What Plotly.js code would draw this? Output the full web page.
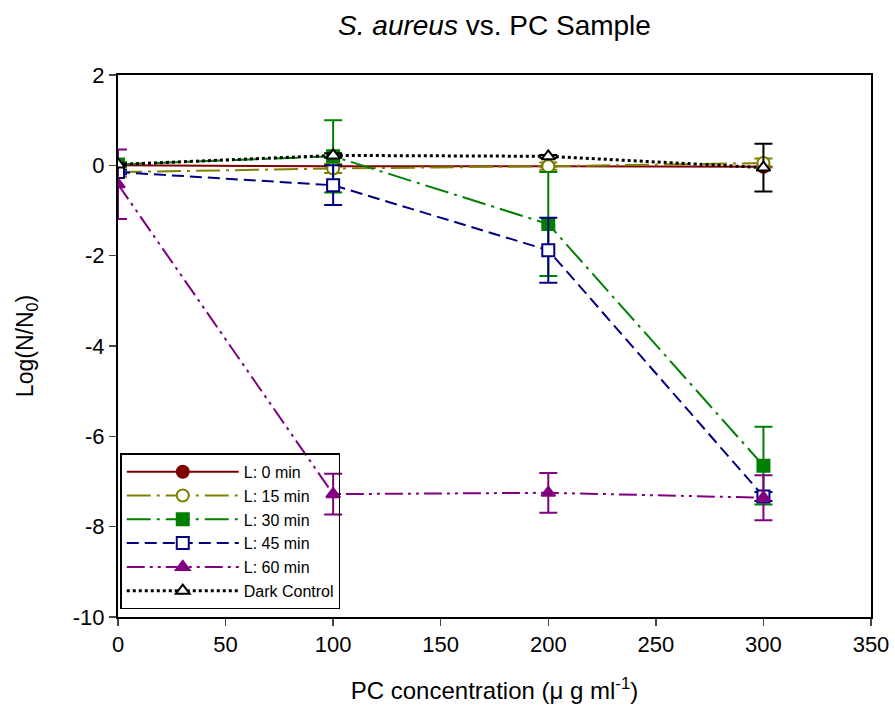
<!DOCTYPE html>
<html>
<head>
<meta charset="utf-8">
<script src="https://cdn.plot.ly/plotly-3.0.1.min.js"></script>
<style>html,body{margin:0;padding:0;background:#fff;}#chart{width:895px;height:718px;}</style>
</head>
<body>
<div id="chart"></div>
<script>
// Data
const concentration = [0, 100, 200, 300];

const seriesNames = ["L: 0 min", "L: 15 min", "L: 30 min", "L: 45 min", "L: 60 min", "Dark Control"];

const l0Values   = [0.00, -0.02, -0.02, -0.03];
const l0Errors   = [0, 0, 0, 0];

const l15Values  = [-0.15, -0.07, -0.02, 0.05];
const l15Errors  = [0.10, 0.10, 0.08, 0.10];

const l30Values  = [0.02, 0.20, -1.30, -6.65];
const l30Errors  = [0.05, 0.80, 1.15, 0.86];

const l45Values  = [-0.15, -0.44, -1.88, -7.33];
const l45Errors  = [0.05, 0.44, 0.72, 0.10];

const l60Values  = [-0.42, -7.28, -7.25, -7.36];
const l60Errors  = [0.77, 0.45, 0.44, 0.50];

const darkValues = [0.02, 0.22, 0.20, -0.05];
const darkErrors = [0.02, 0.05, 0.03, 0.53];

const xTicks = [0, 50, 100, 150, 200, 250, 300, 350];
const yTicks = [-10, -8, -6, -4, -2, 0, 2];

function trace(name, y, err, color, dash, symbol, hollow, lw) {
  return {
    x: concentration, y: y, name: name, type: 'scatter', mode: 'lines+markers',
    line: {color: color, width: lw || 2, dash: dash},
    marker: {symbol: symbol, size: 12, color: hollow ? '#ffffff' : color,
             line: {color: color, width: 2}},
    error_y: {type: 'data', array: err, visible: true, color: color, thickness: 2, width: 9}
  };
}

const data = [
  trace(seriesNames[0], l0Values, l0Errors, '#800000', 'solid', 'circle', false),
  trace(seriesNames[1], l15Values, l15Errors, '#808000', '24px,6px,3px,6px', 'circle', true),
  trace(seriesNames[2], l30Values, l30Errors, '#008000', '24px,6px,3px,6px', 'square', false),
  trace(seriesNames[3], l45Values, l45Errors, '#000080', '12px,6px', 'square', true),
  trace(seriesNames[4], l60Values, l60Errors, '#800080', '18px,5px,3px,5px,3px,5px', 'triangle-up', false),
  trace(seriesNames[5], darkValues, darkErrors, '#000000', '3px,3px', 'triangle-up', true, 3)
];

const layout = {
  width: 895, height: 718,
  margin: {l: 118, r: 24, t: 75, b: 101},
  paper_bgcolor: '#ffffff', plot_bgcolor: '#ffffff',
  font: {family: 'Liberation Sans, Arial, sans-serif', color: '#000000', size: 22},
  title: {text: '<i>S. aureus</i> vs. PC Sample', x: 0.5, xref: 'paper', xanchor: 'center',
          y: 0.965, yref: 'container', yanchor: 'middle', font: {size: 28}},
  xaxis: {range: [0, 350], tickvals: xTicks, ticktext: xTicks.map(String), ticks: 'outside', ticklen: 7, tickwidth: 1.5,
          showline: true, linewidth: 2, linecolor: '#000', mirror: true, showgrid: false, zeroline: false,
          tickfont: {size: 22},
          title: {text: 'PC concentration (\u03bc g ml<sup>-1</sup>)', font: {size: 24}, standoff: 26}},
  yaxis: {range: [-10, 2], tickvals: yTicks, ticktext: yTicks.map(String), ticks: 'outside', ticklen: 7, tickwidth: 1.5,
          showline: true, linewidth: 2, linecolor: '#000', mirror: true, showgrid: false, zeroline: false,
          tickfont: {size: 22},
          title: {text: 'Log(N/N<sub>0</sub>)', font: {size: 23}, standoff: 33}},
  showlegend: true,
  legend: {x: 0.003, y: 0.302, xanchor: 'left', yanchor: 'top', bgcolor: 'rgba(255,255,255,0)',
           bordercolor: '#000000', borderwidth: 1.5, font: {size: 16}, itemwidth: 112,
           tracegroupgap: 0}
};

Plotly.newPlot('chart', data, layout, {displayModeBar: false, staticPlot: true});
</script>
</body>
</html>
